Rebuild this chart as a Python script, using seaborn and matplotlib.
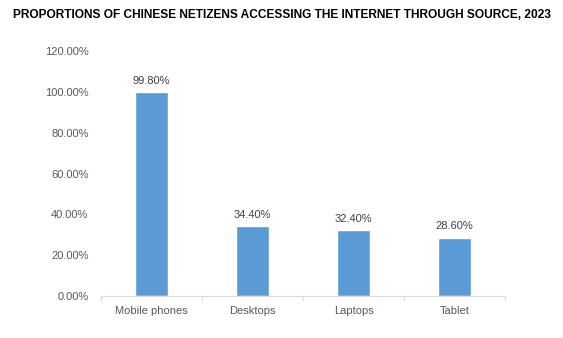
import matplotlib
matplotlib.use("Agg")
import matplotlib.pyplot as plt
import seaborn as sns
import pandas as pd

categories = ["Mobile phones", "Desktops", "Laptops", "Tablet"]
values = [99.80, 34.40, 32.40, 28.60]
title = "PROPORTIONS OF CHINESE NETIZENS ACCESSING THE INTERNET THROUGH SOURCE, 2023"
yticks = [0, 20, 40, 60, 80, 100, 120]

sns.set_style("white")
plt.rcParams['font.family'] = ['Liberation Sans', 'DejaVu Sans']

df = pd.DataFrame({"cat": categories, "val": values})

fig = plt.figure(figsize=(5.63, 3.38), dpi=100)
ax = fig.add_axes([0.1794, 0.1243, 0.7176, 0.7247])
sns.barplot(data=df, x="cat", y="val", color="#5B9BD5", width=0.32, saturation=1, ax=ax)

ax.set_ylim(0, 120)
ax.set_xlim(-0.5, len(categories) - 0.5)
ax.set_yticks(yticks)
ax.set_yticklabels([f"{t:.2f}%" for t in yticks], color="#595959", fontsize=8)
ax.tick_params(axis='y', length=0, pad=9)
ax.set_xticks(range(len(categories)))
ax.set_xticklabels(categories, color="#595959", fontsize=8)
ax.tick_params(axis='x', length=0, pad=7)
# category boundary tick marks
for b in [i - 0.5 for i in range(len(categories) + 1)]:
    ax.plot([b, b], [0, -1.8], color="#D9D9D9", lw=0.8, clip_on=False)
ax.set_xlabel("")
ax.set_ylabel("")
for s in ["top", "right", "left"]:
    ax.spines[s].set_visible(False)
ax.spines["bottom"].set_color("#D9D9D9")
ax.spines["bottom"].set_linewidth(0.8)

for i, v in enumerate(values):
    ax.text(i, v + 3, f"{v:.2f}%", ha="center", va="bottom", fontsize=8, color="#404040")

fig.text(0.5, 0.955, title, ha="center", va="center", fontsize=8.6, fontweight="bold",
         color="black")

fig.savefig("out.png", dpi=100, facecolor="white")
